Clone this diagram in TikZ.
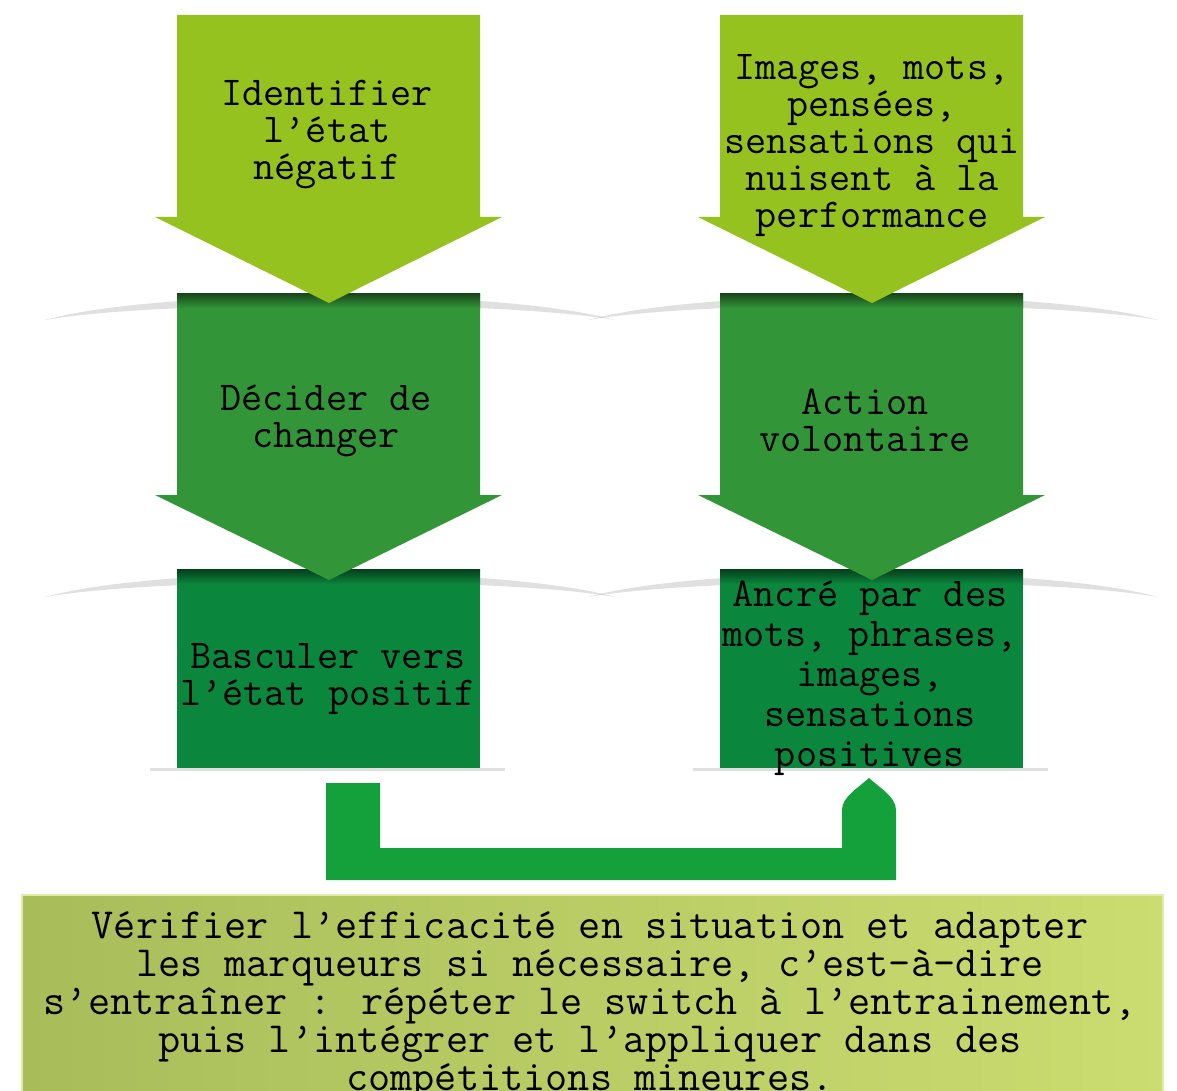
\documentclass[tikz,border=0pt]{standalone}
\usepackage{fontspec}
\usetikzlibrary{positioning}
\definecolor{gLight}{RGB}{150,194,32}
\definecolor{gMid}{RGB}{50,150,56}
\definecolor{gDark}{RGB}{10,135,60}
\definecolor{gRet}{RGB}{20,160,58}
\definecolor{oLeft}{RGB}{168,189,90}
\definecolor{oRight}{RGB}{203,220,112}

\begin{document}
\begin{tikzpicture}[%
    x=0.5pt,
    y=-0.5pt,
    lvl1/.style={fill=gLight},
    lvl2/.style={fill=gMid},
    lvl3/.style={fill=gDark},
    shd/.style={fill=black!30, opacity=0.4},
    ret/.style={fill=gRet},
    txt/.style={align=center, inner sep=0pt, font={\ttfamily\fontsize{20.5}{18.5}\selectfont}},
    ]
    \useasboundingbox (0,0) rectangle (1177,1091);

    \foreach \dx in {0,543} {
        % soft shadows above the lower blocks
        \fill[shd] (\dx+45,320) .. controls (\dx+160,288) and (\dx+500,288) .. (\dx+615,320) .. controls (\dx+500,300) and (\dx+160,300) .. cycle;
        \fill[shd] (\dx+45,597) .. controls (\dx+160,565) and (\dx+500,565) .. (\dx+615,597) .. controls (\dx+500,577) and (\dx+160,577) .. cycle;
        \draw[black!12, line width=1.5pt] (\dx+150,769) -- (\dx+505,769);
        % third level
        \fill[lvl3] (\dx+177,569) rectangle (\dx+480,768);
        \shade[top color=black!55!gDark, bottom color=gDark] (\dx+177,569) rectangle (\dx+480,584);
        % second level
        \fill[lvl2] (\dx+177,293) -- (\dx+480,293) -- (\dx+480,495) -- (\dx+502,495) -- (\dx+329,580) -- (\dx+155,495) -- (\dx+177,495) -- cycle;
        \shade[top color=black!55!gMid, bottom color=gMid] (\dx+177,293) rectangle (\dx+480,308);
        % first level
        \fill[lvl1] (\dx+177,15) -- (\dx+480,15) -- (\dx+480,217) -- (\dx+502,217) -- (\dx+329,303) -- (\dx+155,217) -- (\dx+177,217) -- cycle;
    }

    \node[txt] (ident) at (327,135) {Identifier\\l’état\\négatif};
    \node[txt] (imgs) at (872,146) {Images, mots,\\pensées,\\sensations qui\\nuisent à la\\performance};
    \node[txt] (decid) at (326,421) {Décider de\\changer};
    \node[txt] (act) at (865,420) {Action\\volontaire};
    \node[txt] (bascul) at (328,679) {Basculer vers\\l’état positif};
    \node[txt, font={\ttfamily\fontsize{20.5}{20}\selectfont}] (ancre) at (870,678) {Ancré par des\\mots, phrases,\\images,\\sensations\\positives};

    % return arrow
    \fill[ret] (326,783) -- (326,880) -- (896,880) -- (896,810) .. controls (896,797) and (880,788) .. (869,778) .. controls (858,788) and (842,797) .. (842,810) -- (842,848) -- (380,848) -- (380,783) -- cycle;

    \shade[left color=oLeft, right color=oRight, draw=oRight!60!white, thick] (22,895) rectangle (1163,1100);
    \node[txt, font={\ttfamily\fontsize{21.5}{19}\selectfont}] (verif) at (590,1006) {Vérifier l’efficacité en situation et adapter\\les marqueurs si nécessaire, c’est-à-dire\\s’entraîner : répéter le switch à l’entrainement,\\puis l’intégrer et l’appliquer dans des\\compétitions mineures.};

\end{tikzpicture}
\end{document}
